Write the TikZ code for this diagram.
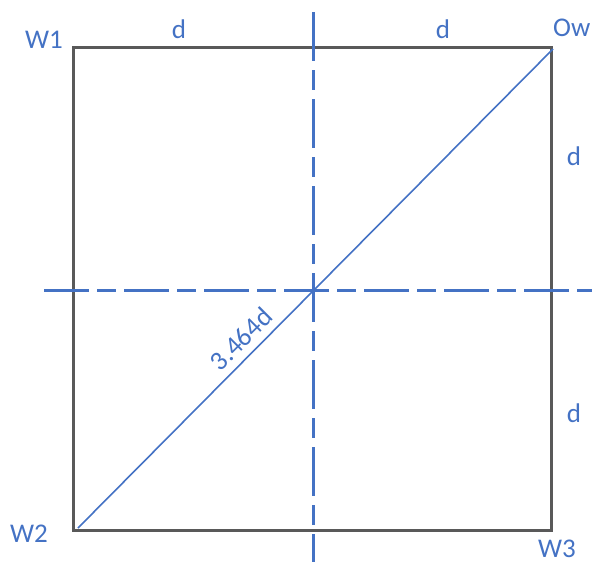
\documentclass[tikz,border=0pt]{standalone}
\usepackage{fontspec}
\setmainfont{Carlito}
\definecolor{lblue}{HTML}{4472C4}
\definecolor{dgray}{HTML}{595959}
\begin{document}
\begin{tikzpicture}[x=1pt,y=-1pt,
  lbl/.style={text=lblue,font=\fontsize{27}{30}\selectfont,inner sep=0pt},
  axisline/.style={draw=lblue,line width=3pt},
  boxline/.style={draw=dgray,line width=3pt},
  diag/.style={draw=lblue,line width=1.6pt}]
\useasboundingbox (0,0) rectangle (592,563);
\coordinate (W1) at (73,47);
\coordinate (Ow) at (551,47);
\coordinate (W2) at (73,530);
\coordinate (W3) at (551,530);
\coordinate (vt) at (313,12);
\coordinate (vb) at (313,562);
\coordinate (hl) at (44,290);
\coordinate (hr) at (592,290);
\coordinate (dA) at (78,528);
\coordinate (dB) at (553,49);
\draw[boxline] (W1) rectangle (W3);
\draw[axisline,dash pattern=on 49pt off 9pt on 20pt off 9pt] (vt) -- (vb);
\draw[axisline,dash pattern=on 45pt off 8pt on 19pt off 8pt] (hl) -- (hr);
\draw[diag] (dA) -- (dB);
\node[lbl] (tW1) at (44,40) {W1};
\node[lbl] (td1) at (179,29) {d};
\node[lbl] (td2) at (443,29) {d};
\node[lbl,anchor=west] (tOw) at (553,28) {Ow};
\node[lbl] (td3) at (574,156) {d};
\node[lbl] (td4) at (574,413) {d};
\node[lbl] (tW2) at (29,534) {W2};
\node[lbl] (tW3) at (557,549) {W3};
\node[lbl,rotate=45] (tdiag) at (241,339) {3.464d};
\end{tikzpicture}
\end{document}
